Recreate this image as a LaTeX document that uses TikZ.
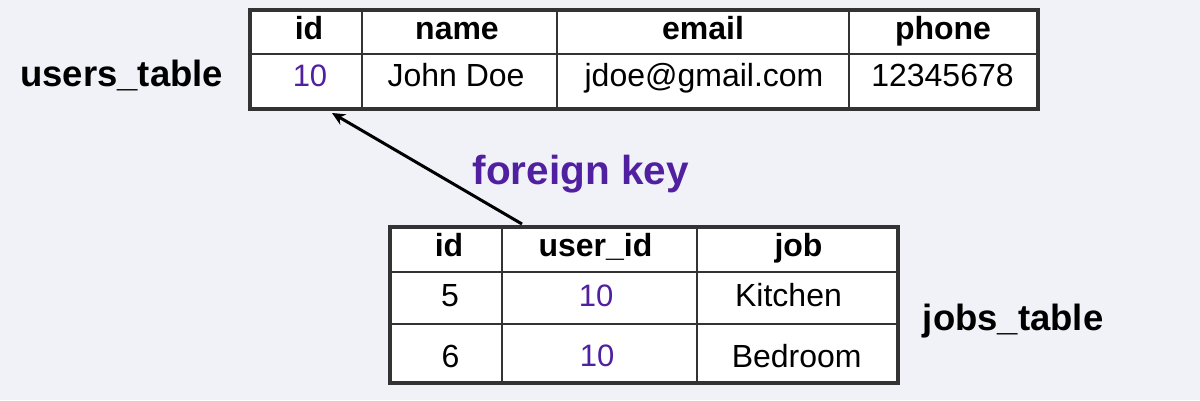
\documentclass[tikz,border=0pt]{standalone}
\usepackage{fontspec}
\setmainfont{Liberation Sans}
\usetikzlibrary{arrows.meta}
\definecolor{bg}{HTML}{F0F2F8}
\definecolor{fkpurple}{HTML}{5020A0}
\definecolor{framec}{HTML}{333333}
\begin{document}
\begin{tikzpicture}[x=1pt,y=-1pt,
  hd/.style={anchor=base,inner sep=0pt,font=\fontsize{32}{38}\selectfont\bfseries},
  dt/.style={anchor=base,inner sep=0pt,font=\fontsize{32}{38}\selectfont},
  num/.style={anchor=base,inner sep=0pt,font=\fontsize{31}{37}\selectfont,text=fkpurple},
  lbl/.style={anchor=base west,inner sep=0pt,font=\fontsize{36.5}{42}\selectfont\bfseries},
  tablebox/.style={fill=white,inner sep=0pt,anchor=north west},
  outerline/.style={draw=framec,line width=4pt},
  gridline/.style={draw=framec,line width=1.3pt},
  fkarrow/.style={-{Stealth[length=13pt,width=12pt]},line width=3pt,black}]
\fill[bg] (0,0) rectangle (1200,400);
\useasboundingbox (0,0) rectangle (1200,400);

% users table
\node[tablebox,minimum width=788pt,minimum height=99pt] (users) at (250,10) {};
\draw[gridline] (250,54) -- (1038,54);
\draw[gridline] (362,10) -- (362,109);
\draw[gridline] (557,10) -- (557,109);
\draw[gridline] (849,10) -- (849,109);
\draw[outerline] (users.north west) rectangle (users.south east);

\node[hd] (uh1) at (309,39) {id};
\node[hd] (uh2) at (457,39) {name};
\node[hd] (uh3) at (703,39) {email};
\node[hd] (uh4) at (943,39) {phone};
\node[num] (ud1) at (310,86) {10};
\node[dt] (ud2) at (456,86) {John Doe};
\node[dt] (ud3) at (704,86) {jdoe@gmail.com};
\node[dt] (ud4) at (942.5,86) {12345678};

% jobs table
\node[tablebox,minimum width=508pt,minimum height=156pt] (jobs) at (390,227) {};
\draw[gridline] (390,272) -- (898,272);
\draw[gridline] (390,324) -- (898,324);
\draw[gridline] (502,227) -- (502,383);
\draw[gridline] (697,227) -- (697,383);
\draw[outerline] (jobs.north west) rectangle (jobs.south east);

\node[hd] (jh1) at (449,256) {id};
\node[hd] (jh2) at (595.5,256) {user\_id};
\node[hd] (jh3) at (798.5,256) {job};
\node[dt] (jr1a) at (450,306) {5};
\node[num] (jr1b) at (596,306) {10};
\node[dt] (jr1c) at (788.5,306) {Kitchen};
\node[dt] (jr2a) at (450.5,367) {6};
\node[num] (jr2b) at (597,366) {10};
\node[dt] (jr2c) at (796.7,367) {Bedroom};

% labels
\node[lbl] (ulabel) at (20,86) {users\_table};
\node[lbl] (jlabel) at (922.7,330) {jobs\_table};
\node[lbl,text=fkpurple,font=\fontsize{40.5}{46}\selectfont\bfseries] (fklabel) at (472.5,184) {foreign key};

% foreign key arrow
\coordinate (fkstart) at (522,224);
\coordinate (fkend) at (332,113);
\draw[fkarrow] (fkstart) -- (fkend);
\end{tikzpicture}
\end{document}
